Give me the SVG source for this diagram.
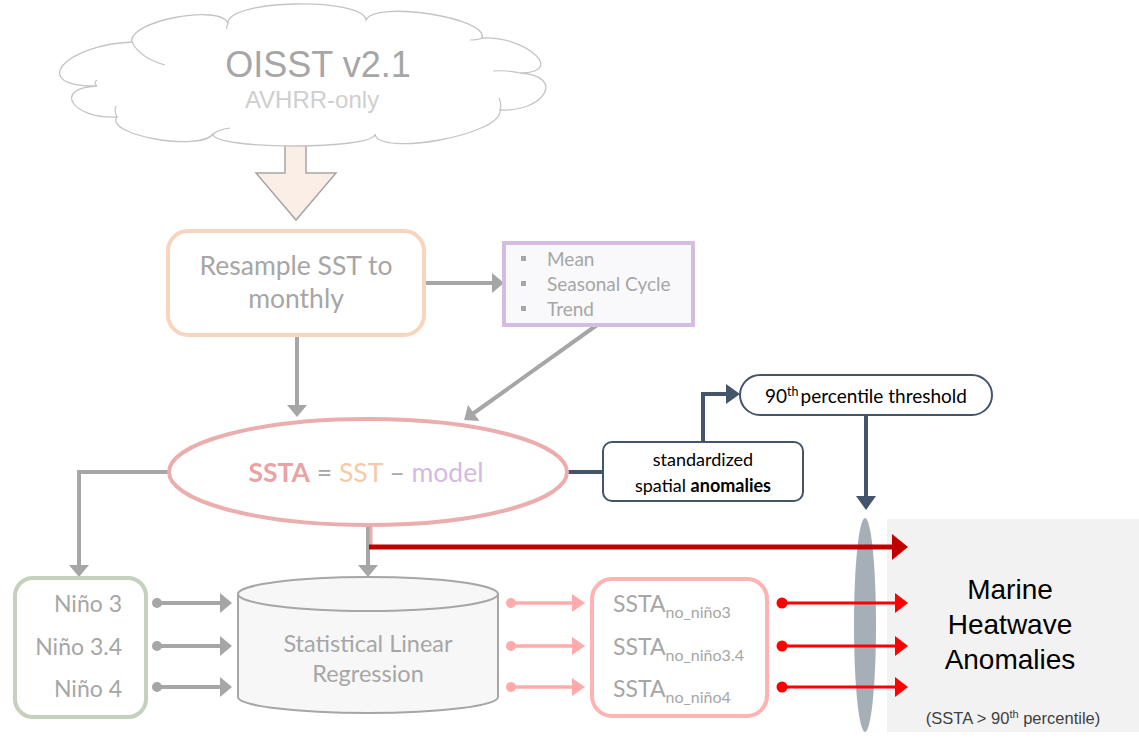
<svg xmlns="http://www.w3.org/2000/svg" width="1139" height="739" viewBox="0 0 1139 739">
<defs>
<style>
.cal{font-family:Lato,"Noto Sans","Liberation Sans",sans-serif}
.ar{font-family:"Liberation Sans",Arial,sans-serif}
.g{fill:none;stroke:#a6a6a6;stroke-width:4}
.pk{fill:none;stroke:#ffabab;stroke-width:3.5}
.rd{fill:none;stroke:#ff0000;stroke-width:3}
.nv{fill:none;stroke:#44546a;stroke-width:4}
.txg{fill:#a6a6a6}
</style>
<marker id="ag" markerUnits="userSpaceOnUse" viewBox="0 0 12 20" refX="6" refY="10" markerWidth="12" markerHeight="20" orient="auto"><path d="M0,0 L12,10 L0,20 Z" fill="#a6a6a6"/></marker>
<marker id="ap" markerUnits="userSpaceOnUse" viewBox="0 0 13 18" refX="7" refY="9" markerWidth="13" markerHeight="18" orient="auto"><path d="M0,0 L13,9 L0,18 Z" fill="#ffabab"/></marker>
<marker id="ar" markerUnits="userSpaceOnUse" viewBox="0 0 13 20" refX="7" refY="10" markerWidth="13" markerHeight="20" orient="auto"><path d="M0,0 L13,10 L0,20 Z" fill="#ff0000"/></marker>
<marker id="adr" markerUnits="userSpaceOnUse" viewBox="0 0 16 26" refX="9" refY="13" markerWidth="16" markerHeight="26" orient="auto"><path d="M0,0 L16,13 L0,26 Z" fill="#c00000"/></marker>
<marker id="an" markerUnits="userSpaceOnUse" viewBox="0 0 14 20" refX="7" refY="10" markerWidth="14" markerHeight="20" orient="auto"><path d="M0,0 L14,10 L0,20 Z" fill="#44546a"/></marker>
</defs>
<rect width="1139" height="739" fill="#ffffff"/>

<g id="background">
<rect x="887" y="519" width="252" height="213" fill="#f2f2f2"/>
<ellipse cx="865" cy="625" rx="11" ry="107" fill="#a6aeb8"/>
</g>

<g id="connectors">
<path d="M285,138 V173 H256 L296,220 L336,173 H306 V138" fill="#fbeee6" stroke="#a6a6a6" stroke-width="1.5"/>
<line class="g" x1="424" y1="283" x2="498" y2="283" marker-end="url(#ag)"/>
<line class="g" x1="297" y1="337" x2="297" y2="411" marker-end="url(#ag)"/>
<line class="g" x1="597" y1="325" x2="469" y2="416.5" marker-end="url(#ag)"/>
<path class="g" d="M170,472 H79 V571" marker-end="url(#ag)"/>
<path class="g" d="M368,525 V571" marker-end="url(#ag)"/>
<line x1="371" y1="526" x2="371" y2="547" stroke="#ebaeae" stroke-width="3"/>
<line x1="369" y1="547" x2="901" y2="547" stroke="#c00000" stroke-width="5" marker-end="url(#adr)"/>
<g fill="#a6a6a6">
<circle cx="157" cy="603" r="5"/><circle cx="157" cy="646" r="5"/><circle cx="157" cy="687" r="5"/>
</g>
<line class="g" x1="157" y1="603" x2="226" y2="603" stroke-width="3.5" marker-end="url(#ag)"/>
<line class="g" x1="157" y1="646" x2="226" y2="646" stroke-width="3.5" marker-end="url(#ag)"/>
<line class="g" x1="157" y1="687" x2="226" y2="687" stroke-width="3.5" marker-end="url(#ag)"/>
<g fill="#ffabab">
<circle cx="511" cy="603" r="5"/><circle cx="511" cy="646" r="5"/><circle cx="511" cy="687" r="5"/>
</g>
<line class="pk" x1="511" y1="603" x2="579" y2="603" marker-end="url(#ap)"/>
<line class="pk" x1="511" y1="646" x2="579" y2="646" marker-end="url(#ap)"/>
<line class="pk" x1="511" y1="687" x2="579" y2="687" marker-end="url(#ap)"/>
<g fill="#ff0000">
<circle cx="782" cy="603" r="5.5"/><circle cx="782" cy="646" r="5.5"/><circle cx="782" cy="687" r="5.5"/>
</g>
<line class="rd" x1="782" y1="603" x2="902" y2="603" marker-end="url(#ar)"/>
<line class="rd" x1="782" y1="646" x2="902" y2="646" marker-end="url(#ar)"/>
<line class="rd" x1="782" y1="687" x2="902" y2="687" marker-end="url(#ar)"/>
<line class="nv" x1="566" y1="472" x2="604" y2="472"/>
<path class="nv" d="M703,443 V394 H733" marker-end="url(#an)"/>
<path class="nv" d="M866,415 V503" marker-end="url(#an)"/>
</g>

<g id="oisst">
<path d="M97,86 C28,87 63,45 132,42 C127,21 223,3 228,24 C225,-1 363,-3 366,20 C375,0 489,18 482,38 C523,35 568,72 520,73 C566,76 545,112 500,110 C503,135 378,157 375,134 C375,150 213,150 213,134 C200,152 104,135 117,117 C72,119 52,88 97,86 Z" fill="#ffffff" stroke="#c4c4c4" stroke-width="1.3"/>
<g fill="none" stroke="#c4c4c4" stroke-width="1.2">
<path d="M132,42 Q140,58 165,65"/>
<path d="M228,24 Q226,27 227,29"/>
<path d="M482,38 Q478,40 470,40"/>
<path d="M493,71 Q508,70 520,73"/>
<path d="M500,110 Q502,104 499,98"/>
<path d="M213,134 Q220,129 230,128"/>
<path d="M117,117 Q114,110 116,106"/>
<path d="M97,86 Q93,83 97,80"/>
</g>
<text class="ar" x="318" y="77" font-size="36" fill="#a6a6a6" text-anchor="middle">OISST v2.1</text>
<text class="ar" x="312" y="108" font-size="24" fill="#cfcfcf" text-anchor="middle">AVHRR-only</text>
</g>

<g id="resample">
<rect x="168" y="231" width="256" height="104" rx="20" fill="#ffffff" stroke="#f8d5bd" stroke-width="4"/>
<text class="cal txg" x="296" y="275" font-size="26.5" text-anchor="middle">Resample SST to</text>
<text class="cal txg" x="296" y="308" font-size="26.5" text-anchor="middle">monthly</text>
</g>

<g id="model-terms">
<rect x="504" y="243" width="189" height="82" fill="#f9f9fb" stroke="#d5bde2" stroke-width="4"/>
<g fill="#a6a6a6"><rect x="521" y="256" width="5" height="5"/><rect x="521" y="281" width="5" height="5"/><rect x="521" y="306" width="5" height="5"/></g>
<text class="cal txg" x="547" y="266" font-size="19">Mean</text>
<text class="cal txg" x="547" y="291" font-size="19">Seasonal Cycle</text>
<text class="cal txg" x="547" y="316" font-size="19">Trend</text>
</g>

<g id="ssta">
<ellipse cx="368" cy="472" rx="199" ry="53" fill="#ffffff" stroke="#ebaeae" stroke-width="4"/>
<text class="cal" x="366" y="482" font-size="26.5" text-anchor="middle"><tspan font-weight="bold" fill="#e9a3a3">SSTA</tspan><tspan fill="#a6a6a6"> = </tspan><tspan fill="#f4c9aa">SST</tspan><tspan fill="#a6a6a6"> – </tspan><tspan fill="#d5b9e3">model</tspan></text>
</g>

<g id="standardized">
<rect x="603" y="442" width="200" height="59" rx="9" fill="#ffffff" stroke="#44546a" stroke-width="2"/>
<text class="cal" x="703" y="466" font-size="18" text-anchor="middle" fill="#000">standardized</text>
<text class="cal" x="703" y="492" font-size="18" text-anchor="middle" fill="#000">spatial <tspan font-weight="bold">anomalies</tspan></text>
</g>

<g id="threshold">
<rect x="740" y="375" width="252" height="40" rx="20" fill="#ffffff" stroke="#44546a" stroke-width="2"/>
<text class="cal" x="866" y="403" font-size="19" text-anchor="middle" fill="#000">90<tspan dy="-7" font-size="12.5">th</tspan><tspan dy="7" dx="2">percentile threshold</tspan></text>
</g>

<g id="nino">
<rect x="15" y="578" width="131" height="139" rx="18" fill="#ffffff" stroke="#c5d0bd" stroke-width="4"/>
<text class="cal txg" x="122" y="612" font-size="23" text-anchor="end">Niño 3</text>
<text class="cal txg" x="122" y="655" font-size="23" text-anchor="end">Niño 3.4</text>
<text class="cal txg" x="122" y="697" font-size="23" text-anchor="end">Niño 4</text>
</g>

<g id="regression">
<path d="M238,594 V697 A130,16 0 0 0 498,697 V594" fill="#f7f7f7" stroke="#a6a6a6" stroke-width="2"/>
<ellipse cx="368" cy="594" rx="130" ry="17" fill="#f7f7f7" stroke="#a6a6a6" stroke-width="2"/>
<text class="cal txg" x="368" y="652" font-size="23.5" text-anchor="middle">Statistical Linear</text>
<text class="cal txg" x="368" y="682" font-size="23.5" text-anchor="middle">Regression</text>
</g>

<g id="ssta-no-nino">
<rect x="592" y="579" width="175" height="137" rx="20" fill="#ffffff" stroke="#ffb3b3" stroke-width="4"/>
<text class="cal txg" x="613" y="612" font-size="23">SSTA<tspan dy="6" font-size="16">no_niño3</tspan></text>
<text class="cal txg" x="613" y="655" font-size="23">SSTA<tspan dy="6" font-size="16">no_niño3.4</tspan></text>
<text class="cal txg" x="613" y="697" font-size="23">SSTA<tspan dy="6" font-size="16">no_niño4</tspan></text>
</g>

<g id="mhw">
<text class="ar" x="1010" y="599" font-size="28" text-anchor="middle" fill="#000">Marine</text>
<text class="ar" x="1010" y="634" font-size="28" text-anchor="middle" fill="#000">Heatwave</text>
<text class="ar" x="1010" y="669" font-size="28" text-anchor="middle" fill="#000">Anomalies</text>
<text class="ar" x="1013" y="724" font-size="16.5" text-anchor="middle" fill="#404040">(SSTA &gt; 90<tspan dy="-6" font-size="11">th</tspan><tspan dy="6"> percentile)</tspan></text>
</g>
</svg>
